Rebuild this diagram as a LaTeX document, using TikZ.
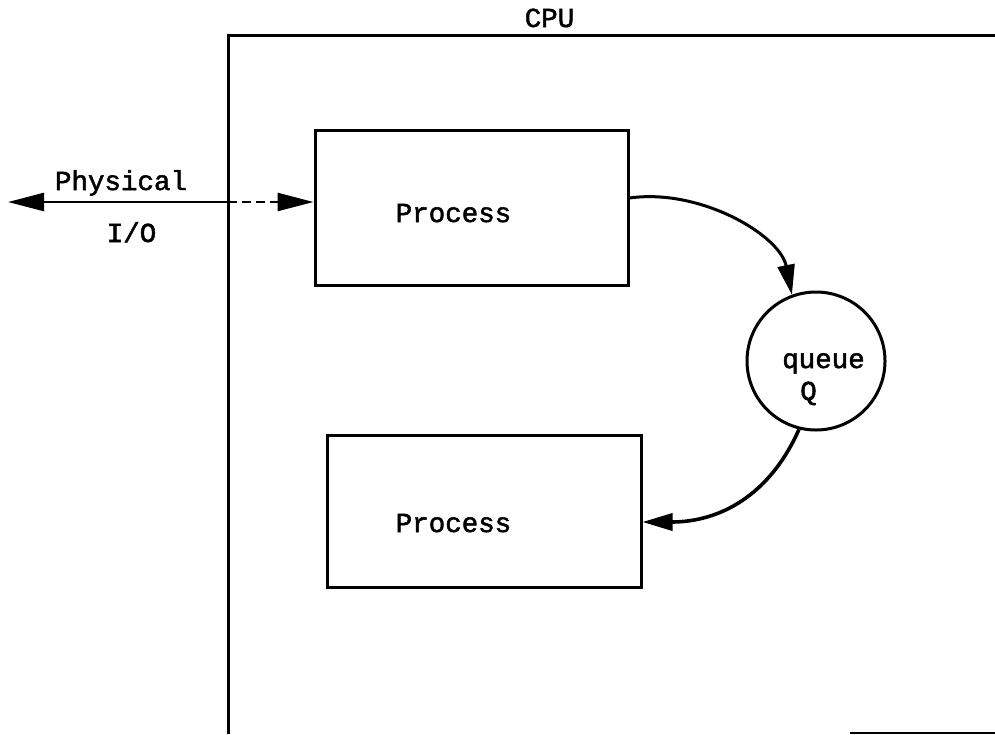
\documentclass[tikz,border=0pt]{standalone}
\usepackage{fontspec}
\usetikzlibrary{arrows.meta}
\newfontfamily\lblfont{Liberation Mono}[UprightFeatures={FakeBold=1.8}]
\tikzset{
  frame/.style={line width=3pt},
  procbox/.style={draw, line width=3pt, rectangle, inner sep=0pt},
  qcircle/.style={draw, line width=3pt, circle, inner sep=0pt},
  lbl/.style={font=\lblfont\fontsize{27.5}{30}\selectfont, inner sep=0pt, anchor=base},
  flow/.style={line width=3pt, -{Triangle[length=30pt,width=17pt]}},
}
\begin{document}
\begin{tikzpicture}[x=1pt,y=-1pt]
\useasboundingbox (0,0) rectangle (995,734);

% CPU frame (runs off the right and bottom edges)
\coordinate (cpuBL) at (228,734);
\coordinate (cpuTL) at (228,35);
\coordinate (cpuTR) at (995,35);
\draw[frame] (cpuBL) -- (cpuTL) -- (cpuTR);
\node[lbl] (cpu) at (549.5,27) {CPU};

% processes and queue
\node[procbox, minimum width=313pt, minimum height=155pt] (p1) at (471.5,207.5) {};
\node[lbl] (p1t) at (453.5,222) {Process};
\node[procbox, minimum width=314pt, minimum height=152pt] (p2) at (484,511) {};
\node[lbl] (p2t) at (453.5,532) {Process};
\node[qcircle, minimum size=138pt] (q) at (816,361) {};
\node[lbl] (qt1) at (823.5,368) {queue};
\node[lbl] (qt2) at (808.5,400) {Q};

% physical I/O link
\coordinate (ioL) at (8,202);
\coordinate (xing) at (228,202);
\draw[line width=2.5pt, -{Triangle[length=36pt,width=18pt]}] (xing) -- (ioL);
\draw[line width=2.5pt, dash pattern=on 9pt off 5pt, -{Triangle[length=36pt,width=18pt]}] (xing) -- (p1.west |- xing);
\node[lbl] (phys) at (121,190) {Physical};
\node[lbl] (io) at (131.5,242) {I/O};

% message flow through the queue
\draw[flow] ([yshift=9.5pt]p1.east) .. controls (700,188) and (780,235) .. (q.110);
\draw[flow, line width=3.6pt] (q.256) .. controls (770,495) and (720,522) .. ([yshift=-11pt]p2.east);

% edge of a further box at the bottom right
\coordinate (bA) at (850,733);
\coordinate (bB) at (995,733);
\draw[line width=2.5pt] (bA) -- (bB);
\end{tikzpicture}
\end{document}
